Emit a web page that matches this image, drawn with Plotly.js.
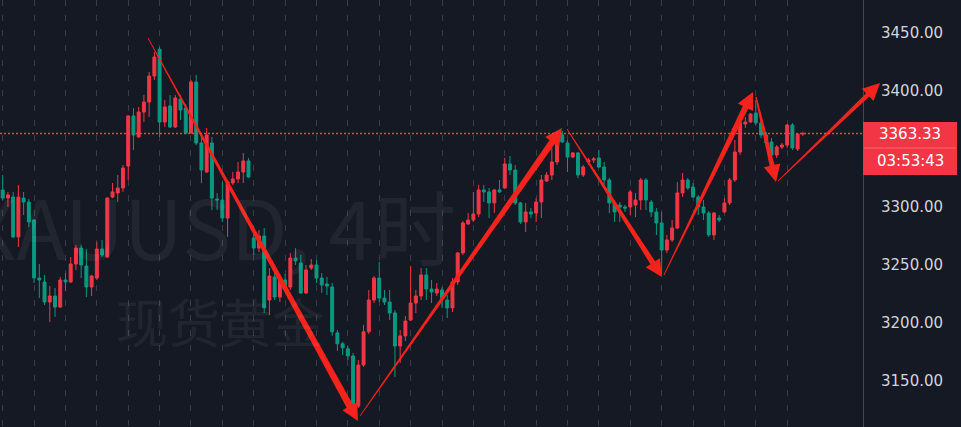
<!DOCTYPE html>
<html><head><meta charset="utf-8">
<script src="https://cdn.plot.ly/plotly-3.0.1.min.js"></script>
<style>html,body{margin:0;padding:0;background:#151924;overflow:hidden}#chart{width:961px;height:427px}</style>
</head><body><div id="chart"></div>
<script>
const symbolText = 'XAUUSD, 4时';
const nameText = '现货黄金';
const lastPrice = 3363.33;
const countdown = '03:53:43';
const yTicks = [3150, 3200, 3250, 3300, 3400, 3450];

const open = [
3314.7,3307.7,3308.6,3274.2,3307.7,3304.3,3288.8,3238.8,3235.4,3218.1,
3223.3,3213.8,3237.1,3235.4,3250.9,3264.6,3249.1,3231.0,3238.8,3263.8,
3256.9,3308.6,3312.1,3316.4,3335.4,3378.5,3360.4,3381.9,3390.5,3412.9,
3436.0,3373.3,3387.1,3369.0,3393.1,3385.3,3363.8,3407.8,3355.2,3330.2,
3355.2,3306.9,3306.0,3290.5,3320.7,3324.2,3330.2,3339.7,3273.3,3264.6,
3275.0,3219.8,3239.7,3222.4,3237.1,3231.0,3256.0,3251.7,3225.9,3247.4,
3250.0,3238.8,3233.6,3231.0,3191.5,3182.1,3177.7,3171.6,3128.4,3163.8,
3192.4,3219.8,3238.8,3221.5,3218.1,3208.6,3180.2,3188.9,3202.6,3217.2,
3223.3,3241.4,3229.3,3225.9,3228.5,3219.8,3213.0,3235.4,3260.4,3285.4,
3288.8,3294.0,3314.7,3313.0,3303.5,3314.7,3316.4,3337.1,3331.9,3303.5,
3287.1,3295.7,3294.8,3304.3,3322.4,3327.6,3338.8,3362.1,3355.2,3343.1,
3346.6,3327.6,3338.8,3340.5,3342.3,3334.5,3323.3,3303.5,3301.7,3300.0,
3300.0,3301.7,3306.0,3323.3,3304.3,3295.7,3286.2,3262.9,3271.6,3281.9,
3312.1,3323.3,3317.2,3308.6,3300.0,3294.8,3275.9,3290.5,3295.7,3303.5,
3323.3,3347.4,3371.6,3373.3,3381.0,3372.5,3362.1,3356.0,3344.8,3351.7,
3353.4,3370.7,3350.0,3362.9];
const high = [
3327.6,3313.0,3313.0,3319.0,3313.0,3306.9,3289.7,3250.9,3241.4,3231.9,
3230.2,3239.7,3243.1,3256.9,3267.3,3267.3,3263.8,3241.5,3269.8,3271.6,
3308.5,3320.7,3327.6,3336.2,3379.0,3385.3,3386.2,3396.6,3416.4,3433.6,
3438.0,3392.2,3396.6,3396.6,3396.6,3388.8,3409.5,3413.8,3362.1,3368.1,
3360.4,3312.1,3321.6,3323.3,3330.2,3338.8,3346.6,3342.2,3282.8,3280.2,
3281.9,3247.4,3243.1,3238.8,3242.3,3260.4,3264.6,3258.6,3250.0,3255.2,
3254.3,3243.1,3239.7,3234.5,3194.0,3183.6,3180.2,3174.2,3168.1,3198.3,
3228.5,3240.5,3252.6,3228.5,3228.5,3211.2,3194.0,3206.0,3249.1,3228.5,
3247.4,3247.4,3237.1,3234.5,3231.0,3224.1,3238.8,3261.2,3287.9,3294.8,
3313.0,3319.0,3319.0,3316.4,3315.5,3323.3,3342.3,3344.0,3336.2,3304.3,
3303.5,3299.1,3307.7,3327.6,3330.2,3350.9,3362.1,3365.5,3357.8,3347.4,
3347.4,3336.2,3342.3,3343.1,3349.1,3338.8,3325.0,3304.3,3304.3,3301.7,
3314.7,3312.1,3325.0,3325.0,3306.0,3299.1,3295.7,3275.9,3288.8,3321.6,
3329.3,3325.0,3320.7,3310.4,3306.0,3296.6,3295.7,3293.1,3307.7,3325.0,
3357.8,3373.3,3377.6,3381.0,3392.2,3376.7,3364.7,3359.5,3353.4,3355.2,
3371.6,3372.5,3363.8,3365.0];
const low = [
3306.0,3300.0,3273.3,3265.5,3293.1,3282.8,3234.5,3221.5,3215.5,3200.9,
3205.2,3213.0,3227.6,3234.5,3245.7,3238.8,3222.4,3223.3,3237.1,3256.9,
3256.0,3307.7,3304.3,3313.0,3323.3,3349.1,3359.5,3373.4,3377.6,3409.5,
3360.4,3369.0,3368.1,3368.1,3375.0,3363.0,3363.0,3353.4,3320.7,3329.3,
3297.4,3297.4,3287.1,3274.2,3319.0,3320.7,3320.7,3325.0,3258.6,3261.2,
3208.6,3206.9,3219.8,3218.1,3226.7,3228.5,3250.0,3225.0,3225.0,3245.7,
3234.5,3225.9,3224.1,3188.9,3176.0,3172.4,3168.1,3125.0,3126.7,3162.1,
3190.6,3217.2,3218.1,3215.5,3202.6,3153.5,3165.5,3184.5,3201.7,3208.6,
3219.8,3219.8,3217.2,3223.3,3213.0,3204.3,3209.5,3232.8,3258.6,3284.5,
3287.1,3291.4,3304.3,3290.5,3294.8,3312.1,3315.5,3327.6,3301.7,3285.4,
3278.5,3290.5,3287.1,3290.5,3321.6,3323.3,3336.2,3355.2,3330.2,3342.3,
3325.0,3325.9,3336.2,3337.9,3333.6,3319.0,3294.8,3287.1,3287.1,3295.7,
3293.1,3291.4,3297.4,3297.4,3291.4,3275.9,3242.3,3260.4,3269.8,3281.1,
3308.6,3314.7,3307.7,3293.1,3288.8,3274.2,3271.6,3287.1,3294.8,3301.7,
3321.6,3344.8,3368.1,3372.5,3370.7,3359.5,3351.7,3342.3,3342.3,3350.0,
3350.9,3349.1,3348.3,3361.2];
const close = [
3307.7,3310.4,3274.2,3308.6,3304.3,3287.1,3238.8,3237.1,3218.1,3223.3,
3213.8,3237.1,3235.4,3250.9,3264.6,3250.0,3231.0,3240.5,3263.8,3258.6,
3307.7,3313.0,3316.4,3333.6,3378.5,3362.1,3381.9,3390.5,3412.9,3429.3,
3373.3,3386.2,3369.0,3394.0,3383.6,3363.8,3407.8,3355.2,3331.9,3362.1,
3307.7,3306.0,3290.5,3321.6,3324.2,3330.2,3339.7,3325.9,3264.6,3275.0,
3213.0,3240.5,3222.4,3237.9,3231.0,3256.0,3253.5,3225.9,3245.7,3250.0,
3238.8,3232.8,3231.9,3192.4,3182.1,3178.6,3171.6,3128.4,3163.8,3192.4,
3219.8,3238.8,3221.5,3218.1,3208.6,3180.2,3188.9,3201.7,3217.2,3223.3,
3241.4,3229.3,3226.7,3229.3,3221.5,3213.0,3235.4,3260.4,3286.2,3288.8,
3294.0,3314.7,3313.0,3303.5,3314.7,3313.0,3337.1,3331.9,3303.5,3287.1,
3295.7,3294.0,3304.3,3323.3,3327.6,3338.8,3357.8,3356.0,3343.1,3346.6,
3327.6,3334.5,3340.5,3341.4,3334.5,3323.3,3303.5,3295.7,3300.0,3299.1,
3313.0,3306.0,3323.3,3306.0,3295.7,3286.2,3262.9,3271.6,3281.9,3312.1,
3323.3,3316.4,3308.6,3300.0,3294.8,3275.9,3294.8,3288.8,3303.5,3323.3,
3347.4,3372.5,3373.3,3380.2,3372.5,3362.1,3355.2,3344.8,3351.7,3353.4,
3370.7,3350.9,3362.9,3363.33];

// hand-drawn arrows: [bar index, price] start -> end
const arrowFrom = [[27.78,3445.7],[68.32,3119.8],[107.9,3367.2],[126.44,3241.4],[144.03,3394.8],[148.25,3322.4]];
const arrowTo   = [[67.93,3115.5],[106.94,3368.1],[126.06,3239.6],[143.46,3399.1],[147.86,3321.6],[167.74,3406.9]];
const arrowW0 = [0.8,0.8,0.8,0.8,1.5,0.8];
const arrowW1 = [7,6.5,5.5,6,5,4.5];

const W = 863, H = 427;
const xr = [-0.516, 164.5], yr = [3110.35, 3478.45];
function toPx(i, p){ return [(i - xr[0])/(xr[1]-xr[0])*W, (1 - (p - yr[0])/(yr[1]-yr[0]))*H]; }
function pp(pt){ return (pt[0]/W).toFixed(5) + ',' + (1 - pt[1]/H).toFixed(5); }

const idx = open.map((_, i) => i);
const gridIdx = [];
for (let k = 0; k <= 150; k += 6) gridIdx.push(k);

const shapes = [];
const RED = '#f5231b';
for (let a = 0; a < arrowFrom.length; a++){
  const P0 = toPx(arrowFrom[a][0], arrowFrom[a][1]);
  const P1 = toPx(arrowTo[a][0], arrowTo[a][1]);
  const dx = P1[0]-P0[0], dy = P1[1]-P0[1], L = Math.hypot(dx, dy);
  const ux = dx/L, uy = dy/L, nx = -uy, ny = ux;
  const hl = 17, hw = 8.5;
  const B = [P1[0]-ux*hl, P1[1]-uy*hl];
  const w0 = arrowW0[a]/2, w1 = arrowW1[a]/2;
  const pts = [
    [P0[0]+nx*w0, P0[1]+ny*w0], [B[0]+nx*w1, B[1]+ny*w1], [B[0]+nx*hw, B[1]+ny*hw],
    P1, [B[0]-nx*hw, B[1]-ny*hw], [B[0]-nx*w1, B[1]-ny*w1], [P0[0]-nx*w0, P0[1]-ny*w0]
  ];
  shapes.push({type:'path', xref:'paper', yref:'paper', layer:'above',
    path: 'M' + pts.map(pp).join(' L') + ' Z', fillcolor: RED, line:{width:0}});
}
// last price line
shapes.push({type:'line', xref:'paper', x0:0, x1:1, yref:'y', y0:lastPrice, y1:lastPrice,
  line:{color:'#f7404f', width:1.6, dash:'2px,2px'}, layer:'above'});
const py = toPx(0, lastPrice)[1];
shapes.push({type:'rect', xref:'paper', yref:'paper', x0:1, x1:957/W, y0:1-(py+41.5)/H, y1:1-(py-11.5)/H,
  fillcolor:'#f23645', line:{width:0}, layer:'above'});
shapes.push({type:'line', xref:'paper', yref:'paper', x0:864/W, x1:956/W, y0:1-(py+14.5)/H, y1:1-(py+14.5)/H,
  line:{color:'rgba(255,255,255,0.25)', width:1}, layer:'above'});

const annotations = [
  {text:symbolText, xref:'paper', yref:'paper', x:212/W, y:1-224/H, xanchor:'center', yanchor:'middle', showarrow:false,
   font:{family:'Noto Sans CJK SC', size:82, color:'rgba(255,255,255,0.055)'}},
  {text:nameText, xref:'paper', yref:'paper', x:220/W, y:1-320/H, xanchor:'center', yanchor:'middle', showarrow:false,
   font:{family:'Noto Sans CJK SC', size:52, color:'rgba(255,255,255,0.055)'}},
  {text:lastPrice.toFixed(2), xref:'paper', yref:'paper', x:910/W, y:1-(py+0.5)/H, xanchor:'center', yanchor:'middle', showarrow:false,
   font:{family:'DejaVu Sans', size:15, color:'#ffffff'}},
  {text:countdown, xref:'paper', yref:'paper', x:910/W, y:1-(py+27.5)/H, xanchor:'center', yanchor:'middle', showarrow:false,
   font:{family:'DejaVu Sans', size:15, color:'#ffffff'}}
];

const trace = {
  type:'candlestick', x: idx, open: open, high: high, low: low, close: close,
  increasing:{line:{color:'#f23645', width:1}, fillcolor:'#f23645'},
  decreasing:{line:{color:'#089981', width:1}, fillcolor:'#089981'},
  whiskerwidth:0, hoverinfo:'skip'
};

const layout = {
  width:961, height:427, margin:{l:0, r:98, t:0, b:0, pad:0},
  paper_bgcolor:'#151924', plot_bgcolor:'#151924', showlegend:false,
  boxgap:0.25, boxgroupgap:0.25,
  xaxis:{range:xr, showticklabels:false, ticks:'', tickmode:'array', tickvals:gridIdx, showgrid:true,
    gridcolor:'#383c47', griddash:'6px,9px', gridwidth:1, zeroline:false, showline:false,
    rangeslider:{visible:false}, fixedrange:true},
  yaxis:{side:'right', range:yr, tickmode:'array', tickvals:yTicks, tickformat:'.2f', showgrid:false,
    zeroline:false, showline:true, linecolor:'#434651', linewidth:1, ticks:'', ticklabelstandoff:14,
    tickfont:{family:'DejaVu Sans', size:15, color:'#d1d4dc'}, fixedrange:true},
  shapes: shapes, annotations: annotations
};
Plotly.newPlot('chart', [trace], layout, {staticPlot:true, displayModeBar:false});
</script></body></html>
